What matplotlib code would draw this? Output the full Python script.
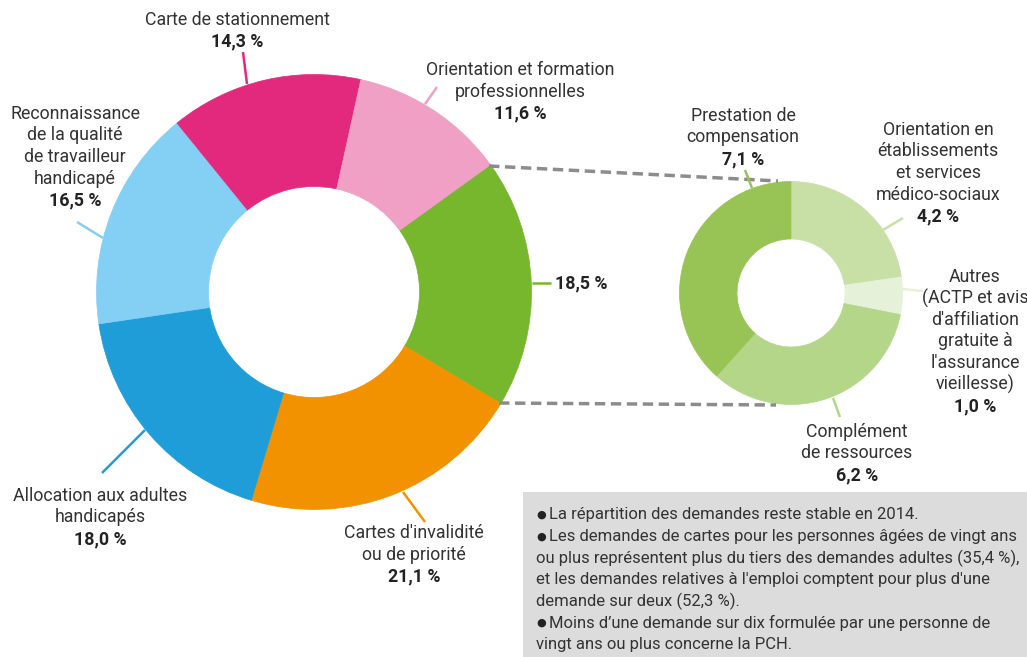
import matplotlib
matplotlib.use("Agg")
import matplotlib.pyplot as plt
from matplotlib.patches import Rectangle

plt.rcParams['font.family'] = ['Roboto', 'DejaVu Sans']

# main donut, clockwise from the green slice
main_names = ["", "Cartes d'invalidité\nou de priorité", "Allocation aux adultes\nhandicapés",
              "Reconnaissance\nde la qualité\nde travailleur\nhandicapé", "Carte de stationnement",
              "Orientation et formation\nprofessionnelles"]
main_values = [18.5, 21.1, 18.0, 16.5, 14.3, 11.6]
main_colors = ['#77b72e', '#f39200', '#1e9dd8', '#84cff4', '#e3297d', '#f09fc5']

# detail of the green slice, clockwise from the top
sub_names = ["Orientation en\nétablissements\net services\nmédico-sociaux",
             "Autres\n(ACTP et avis\nd'affiliation\ngratuite à\nl'assurance\nvieillesse)",
             "Complément\nde ressources", "Prestation de\ncompensation"]
sub_values = [4.2, 1.0, 6.2, 7.1]
sub_colors = ['#c8e0a6', '#e6f1da', '#b4d689', '#97c455']

notes = ["La répartition des demandes reste stable en 2014.",
         "Les demandes de cartes pour les personnes âgées de vingt ans\n"
         "ou plus représentent plus du tiers des demandes adultes (35,4 %),\n"
         "et les demandes relatives à l'emploi comptent pour plus d'une\n"
         "demande sur deux (52,3 %).",
         "Moins d’une demande sur dix formulée par une personne de\n"
         "vingt ans ou plus concerne la PCH."]

W, H = 1027, 657


def Y(y):
    return H - y


def pct(v):
    return f"{v:.1f}".replace('.', ',') + " %"


fig = plt.figure(figsize=(W / 100, H / 100), dpi=100)
ax = fig.add_axes([0, 0, 1, 1])

w1, _ = ax.pie(main_values, colors=main_colors, startangle=35.8, counterclock=False,
               center=(314, Y(292)), radius=217.5,
               wedgeprops=dict(width=112, linewidth=0.5))
w2, _ = ax.pie(sub_values, colors=sub_colors, startangle=90, counterclock=False,
               center=(791, Y(293)), radius=111.5,
               wedgeprops=dict(width=57.5, linewidth=0.5))
for w in list(w1) + list(w2):
    w.set_edgecolor(w.get_facecolor())

# connecting dashed lines
ax.plot([489, 778], [Y(166), Y(181)], color='#8c8c8c', lw=2.5, ls=(0, (3, 1.6)))
ax.plot([499, 776], [Y(403), Y(405)], color='#8c8c8c', lw=2.5, ls=(0, (3, 1.6)))

# label layout: (x center, y of first line, leader line)
main_layout = [
    (555, 283, [(532, 283), (551, 283)]),
    (414, 533, [(403, 492), (425, 522)]),
    (100, 496, [(102, 473), (145, 430)]),
    (75, 114, [(77, 222), (103, 238)]),
    (237, 20, [(243, 52), (247, 84)]),
    (520, 70, [(437, 87), (425, 104)]),
]
sub_layout = [
    (938, 130, [(883, 230), (903, 218)]),
    (975, 277, [(902, 289), (923, 291)]),
    (857, 432, [(833, 398), (840, 417)]),
    (743, 116, [(745, 170), (752, 188)]),
]

lh = 21.5
txt = '#333333'


def label(name, value, color, lay):
    x, y, line = lay
    (x0, y0), (x1, y1) = line
    ax.plot([x0, x1], [Y(y0), Y(y1)], color=color, lw=1.8, solid_capstyle='butt')
    if name:
        lines = name.split('\n')
        for i, s in enumerate(lines):
            ax.text(x, Y(y + i * lh), s, ha='center', va='center', fontsize=12.8, color=txt)
        ax.text(x, Y(y + len(lines) * lh), pct(value), ha='center', va='center',
                fontsize=12.8, fontweight='bold', color='#222222')
    else:
        ax.text(x, Y(y), pct(value), ha='left', va='center',
                fontsize=12.8, fontweight='bold', color='#222222')


for n, v, c, lay in zip(main_names, main_values, main_colors, main_layout):
    label(n, v, c, lay)
for n, v, c, lay in zip(sub_names, sub_values, sub_colors, sub_layout):
    label(n, v, c, lay)

# note box
ax.add_patch(Rectangle((523, 0), W - 523, Y(492), facecolor='#dcdcdc', edgecolor='none'))
yy = 515
for note in notes:
    for i, s in enumerate(note.split('\n')):
        if i == 0:
            ax.text(536, Y(yy), '●', ha='left', va='center', fontsize=8, color='#222222')
            ax.text(549, Y(yy), s, ha='left', va='center', fontsize=12, color='#333333')
        else:
            ax.text(536, Y(yy), s, ha='left', va='center', fontsize=12, color='#333333')
        yy += 21.5

ax.set_xlim(0, W)
ax.set_ylim(0, H)
ax.set_aspect('equal')
ax.axis('off')

fig.savefig('out.png', dpi=100)
